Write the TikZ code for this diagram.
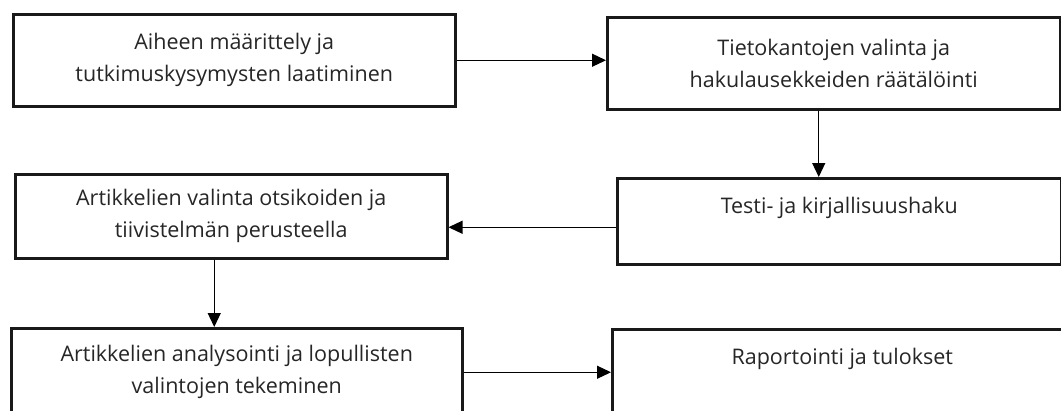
\documentclass[tikz,border=0pt]{standalone}
\usepackage{fontspec}
\setmainfont{Open Sans}
\usetikzlibrary{arrows.meta}
\begin{document}
\begin{tikzpicture}[x=1pt,y=-1pt,
 box/.style={draw=black!90, line width=2.5pt, fill=white, align=center, text=black!85,
   font=\fontsize{21.5}{32}\selectfont, inner sep=0pt, anchor=north west},
 conn/.style={draw=black, line width=1.2pt, -{Triangle[length=14pt,width=13pt]}}]
\useasboundingbox (0,0) rectangle (1061,410);
\node[box, minimum width=442pt, minimum height=92pt] (A) at (12,13)
  {Aiheen määrittely ja\\tutkimuskysymysten laatiminen};
\node[box, minimum width=453pt, minimum height=92pt] (B) at (606,16)
  {Tietokantojen valinta ja\\hakulausekkeiden räätälöinti};
\node[box, minimum width=444pt, minimum height=86pt] (C) at (616,177)
  {Testi- ja kirjallisuushaku\\\mbox{}};
\node[box, minimum width=432pt, minimum height=84pt] (D) at (14,173)
  {Artikkelien valinta otsikoiden ja\\tiivistelmän perusteella};
\node[box, minimum width=451pt, minimum height=88pt] (E) at (10,327)
  {Artikkelien analysointi ja lopullisten\\valintojen tekeminen};
\node[box, minimum width=460pt, minimum height=87pt] (F) at (611,328)
  {Raportointi ja tulokset\\\mbox{}};
\draw[conn] (A.east) -- (A.east -| B.west);
\draw[conn] ([xshift=-15pt]B.south) -- ([xshift=-15pt]B.south |- C.north);
\draw[conn] ([yshift=-6pt]C.west) -- ([yshift=-6pt]C.west -| D.east);
\draw[conn] ([xshift=-17pt]D.south) -- ([xshift=-17pt]D.south |- E.north);
\draw[conn] (E.east) -- (E.east -| F.west);
\end{tikzpicture}
\end{document}
